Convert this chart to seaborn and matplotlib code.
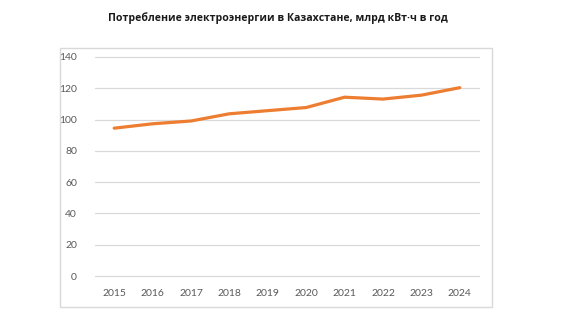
import matplotlib
matplotlib.use("Agg")
import matplotlib.pyplot as plt
import seaborn as sns
import pandas as pd
from matplotlib.patches import Rectangle

years = ["2015", "2016", "2017", "2018", "2019", "2020", "2021", "2022", "2023", "2024"]
consumption = [94.5, 97.3, 99.1, 103.7, 105.7, 107.7, 114.3, 113.1, 115.6, 120.4]
y_ticks = [0, 20, 40, 60, 80, 100, 120, 140]
title = "Потребление электроэнергии в Казахстане, млрд кВт·ч в год"

df = pd.DataFrame({"year": years, "value": consumption})

sns.set_theme(style="white")
plt.rcParams["font.family"] = ["Lato", "DejaVu Sans"]

W, H = 573, 321
fig = plt.figure(figsize=(W / 100, H / 100), dpi=100)
fig.patch.set_facecolor("white")

# chart border
fig.patches.append(Rectangle((60 / W, 1 - 307 / H), (492 - 60) / W, (307 - 48) / H,
                             transform=fig.transFigure, fill=False,
                             edgecolor="#d9d9d9", linewidth=1.0))

ax = fig.add_axes([95 / W, 1 - 276 / H, (479 - 95) / W, (276 - 57) / H])
ax.set_xlim(-0.5, len(years) - 0.5)
ax.set_ylim(0, 140)
for t in y_ticks:
    ax.axhline(t, color="#d9d9d9", linewidth=0.9, clip_on=False, zorder=0)
sns.lineplot(data=df, x="year", y="value", ax=ax, color="#ED7D31",
             linewidth=2.3, sort=False, zorder=3)
ax.set_xlim(-0.5, len(years) - 0.5)
ax.set_ylim(0, 140)
ax.set_yticks(y_ticks)
ax.set_yticklabels([str(t) for t in y_ticks])
for s in ax.spines.values():
    s.set_visible(False)
ax.set_xlabel("")
ax.set_ylabel("")
ax.tick_params(axis="y", length=0, pad=13, labelsize=7.5, labelcolor="#595959")
ax.tick_params(axis="x", length=0, pad=9, labelsize=7.5, labelcolor="#595959")

fig.text(278 / W, 1 - 18 / H, title, ha="center", va="center",
         fontsize=7.6, fontweight="bold", color="#1a1a1a",
         family=["Open Sans", "DejaVu Sans"])

fig.savefig("out.png", dpi=100)
